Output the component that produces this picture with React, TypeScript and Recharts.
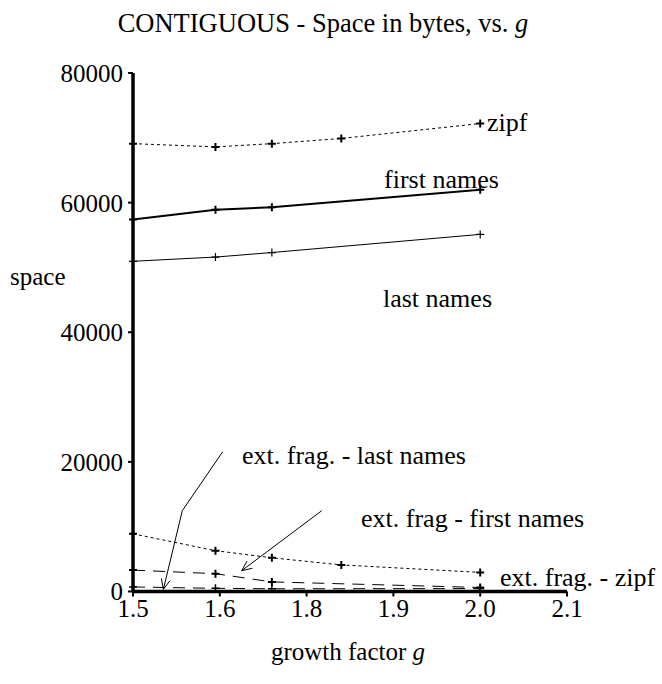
import {
  LineChart,
  Line,
  XAxis,
  YAxis,
  ReferenceDot,
  ReferenceLine,
} from "recharts";

// tick labels along the g axis (the source axis skips 1.7)
const tickLabels = ["1.5", "1.6", "1.8", "1.9", "2.0", "2.1"];
const tickValues = [1.5, 1.6, 1.8, 1.9, 2.0, 2.1];
const yTicks = [0, 20000, 40000, 60000, 80000];

const gValues = [1.5, 1.595, 1.72, 1.84, 2.0];
const zipf = [69100, 68600, 69100, 69900, 72200];
const firstNames = [57400, 58900, 59300, null, 62000];
const lastNames = [50950, 51600, 52300, null, 55100];
const extZipf = [8900, 6300, 5200, 4100, 2950];
const extFirst = [3300, 2750, 1480, null, 620];
const extLast = [700, 490, 420, null, 450];

// annotations, in axis coordinates
const notes = [
  { x: 4.078, y: 72450, text: "zipf" },
  { x: 2.892, y: 63610, text: "first names" },
  { x: 2.88, y: 45260, text: "last names" },
  { x: 1.256, y: 21050, text: "ext. frag. - last names" },
  { x: 2.627, y: 11330, text: "ext. frag - first names" },
  { x: 4.228, y: 2240, text: "ext. frag. - zipf" },
];
const arrows = [
  { from: [1.033, 21560], to: [0.568, 12460], head: false },
  { from: [0.568, 12460], to: [0.35, 340], head: true },
  { from: [2.174, 12460], to: [1.252, 3210], head: true },
];

const FONT = "'Liberation Serif', 'Times New Roman', serif";

// map g onto the evenly spaced tick slots
function toPos(g: number) {
  for (let i = 0; i < tickValues.length - 1; i++) {
    if (g <= tickValues[i + 1]) {
      return i + (g - tickValues[i]) / (tickValues[i + 1] - tickValues[i]);
    }
  }
  return tickValues.length - 1;
}

const rows = gValues.map((g, i) => ({
  pos: toPos(g),
  zipf: zipf[i],
  firstNames: firstNames[i],
  lastNames: lastNames[i],
  extZipf: extZipf[i],
  extFirst: extFirst[i],
  extLast: extLast[i],
}));

function plus(w: number) {
  return (p: any) => {
    const { cx, cy, index } = p;
    if (cx == null || cy == null || p.value == null) return <g key={index} />;
    const s = 4;
    return (
      <path
        key={index}
        d={`M${cx - s},${cy}H${cx + s}M${cx},${cy - s}V${cy + s}`}
        stroke="#000"
        strokeWidth={w}
        fill="none"
      />
    );
  };
}

function arrowShape(head: boolean) {
  return (p: any) => {
    const { x1, y1, x2, y2 } = p;
    const ang = Math.atan2(y2 - y1, x2 - x1);
    const len = 11;
    const a = 0.42;
    const hx1 = x2 - len * Math.cos(ang - a);
    const hy1 = y2 - len * Math.sin(ang - a);
    const hx2 = x2 - len * Math.cos(ang + a);
    const hy2 = y2 - len * Math.sin(ang + a);
    return (
      <g>
        <line x1={x1} y1={y1} x2={x2} y2={y2} stroke="#000" strokeWidth={1} />
        {head && (
          <path
            d={`M${hx1},${hy1}L${x2},${y2}L${hx2},${hy2}`}
            stroke="#000"
            strokeWidth={1}
            fill="none"
          />
        )}
      </g>
    );
  };
}

function noteShape(text: string) {
  return (p: any) => (
    <text
      x={p.cx}
      y={p.cy}
      dy="0.35em"
      fontFamily={FONT}
      fontSize={26}
      fill="#000"
    >
      {text}
    </text>
  );
}

const XTitle = () => (
  <text
    x={348}
    y={660}
    textAnchor="middle"
    fontFamily={FONT}
    fontSize={25}
    fill="#000"
  >
    growth factor <tspan fontStyle="italic">g</tspan>
  </text>
);

const YTitle = () => (
  <text x={10} y={285} fontFamily={FONT} fontSize={25} fill="#000">
    space
  </text>
);

const tickStyle = { fill: "#000", fontSize: 25, fontFamily: FONT };

export default function App() {
  return (
    <div style={{ position: "absolute", left: 0, top: 0, width: 662, height: 684, background: "#fff" }}>
      <div
        style={{
          position: "absolute",
          left: 0,
          top: 8,
          width: 646,
          textAlign: "center",
          fontFamily: FONT,
          fontSize: 26.5,
          color: "#000",
          lineHeight: "30px",
        }}
      >
        CONTIGUOUS - Space in bytes, vs. <i>g</i>
      </div>
      <LineChart
        width={662}
        height={684}
        data={rows}
        margin={{ top: 73, right: 95, bottom: 0, left: 0 }}
      >
        <XAxis
          dataKey="pos"
          type="number"
          domain={[0, 5]}
          ticks={[0, 1, 2, 3, 4, 5]}
          tickFormatter={(v: number) => tickLabels[v]}
          height={92.5}
          axisLine={{ stroke: "#000", strokeWidth: 3.5 }}
          tickLine={{ stroke: "#000", strokeWidth: 2 }}
          tickSize={5}
          tickMargin={3}
          tick={tickStyle}
          label={<XTitle />}
        />
        <YAxis
          type="number"
          domain={[0, 80000]}
          ticks={yTicks}
          width={133}
          axisLine={{ stroke: "#000", strokeWidth: 3.5 }}
          tickLine={{ stroke: "#000", strokeWidth: 2 }}
          tickSize={5}
          tickMargin={5}
          tick={tickStyle}
          label={<YTitle />}
        />
        <Line dataKey="zipf" stroke="#000" strokeWidth={1} strokeDasharray="3 3" dot={plus(2)} isAnimationActive={false} />
        <Line dataKey="firstNames" stroke="#000" strokeWidth={2} dot={plus(2)} connectNulls isAnimationActive={false} />
        <Line dataKey="lastNames" stroke="#000" strokeWidth={1} dot={plus(1.2)} connectNulls isAnimationActive={false} />
        <Line dataKey="extZipf" stroke="#000" strokeWidth={1} strokeDasharray="3 3" dot={plus(2)} isAnimationActive={false} />
        <Line dataKey="extFirst" stroke="#000" strokeWidth={1} strokeDasharray="12 8" dot={plus(2)} connectNulls isAnimationActive={false} />
        <Line dataKey="extLast" stroke="#000" strokeWidth={1} strokeDasharray="12 8" dot={plus(1.5)} connectNulls isAnimationActive={false} />
        {arrows.map((a, i) => (
          <ReferenceLine
            key={"a" + i}
            segment={[
              { x: a.from[0], y: a.from[1] },
              { x: a.to[0], y: a.to[1] },
            ]}
            shape={arrowShape(a.head)}
          />
        ))}
        {notes.map((n, i) => (
          <ReferenceDot key={"n" + i} x={n.x} y={n.y} r={0} shape={noteShape(n.text)} />
        ))}
      </LineChart>
    </div>
  );
}
